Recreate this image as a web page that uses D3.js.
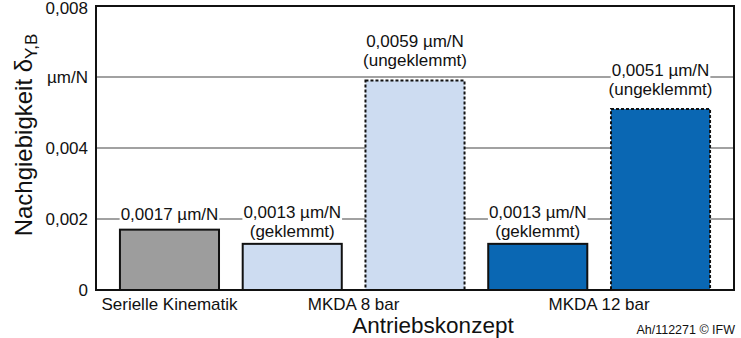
<!DOCTYPE html>
<html>
<head>
<meta charset="utf-8">
<script src="https://cdn.jsdelivr.net/npm/d3@7"></script>
<style>
  html, body { margin: 0; padding: 0; background: #fff; }
  svg { display: block; font-family: "Liberation Sans", Arial, sans-serif; }
</style>
</head>
<body>
<svg id="chart" width="741" height="338"></svg>
<script>
// Compliance (µm/N) of the drive concepts
const barIds      = ["serial", "mkda8_clamped", "mkda8_free", "mkda12_clamped", "mkda12_free"];
const barGroups   = [0, 1, 1, 2, 2];
const values      = [0.0017, 0.0013, 0.0059, 0.0013, 0.0051];
const valueLabels = ["0,0017 µm/N", "0,0013 µm/N", "0,0059 µm/N", "0,0013 µm/N", "0,0051 µm/N"];
const stateLabels = ["", "(geklemmt)", "(ungeklemmt)", "(geklemmt)", "(ungeklemmt)"];
const categories  = ["Serielle Kinematik", "MKDA 8 bar", "MKDA 12 bar"];
const yTicks      = [0, 0.002, 0.004, 0.006, 0.008];
const yTickLabels = ["0", "0,002", "0,004", "µm/N", "0,008"];

// Styling per bar
const barFill   = { serial: "#9d9d9d", mkda8_clamped: "#cddcf1", mkda8_free: "#cddcf1", mkda12_clamped: "#0a67b3", mkda12_free: "#0a67b3" };
const barDashed = { serial: false, mkda8_clamped: false, mkda8_free: true, mkda12_clamped: false, mkda12_free: true };
const labelGap  = { serial: 10, mkda8_clamped: 7, mkda8_free: 15, mkda12_clamped: 7, mkda12_free: 14 };

const svg = d3.select("#chart");
const m = { left: 96, right: 7, top: 6, bottom: 48 };
const W = 741, H = 338;
const x0 = m.left, x1 = W - m.right, yTop = m.top, yBot = H - m.bottom;

const x = d3.scaleBand().domain(barIds).range([x0, x1]).paddingInner(0.193).paddingOuter(0.195);
const y = d3.scaleLinear().domain([0, 0.008]).range([yBot, yTop]);

// gridlines
svg.append("g")
  .selectAll("line").data(yTicks.filter(t => t > 0 && t < 0.008)).join("line")
  .attr("x1", x0).attr("x2", x1)
  .attr("y1", d => y(d)).attr("y2", d => y(d))
  .attr("stroke", "#444").attr("stroke-width", 1.2);

// y axis tick labels
const yAxis = d3.axisLeft(y).tickValues(yTicks).tickSize(0).tickPadding(8)
  .tickFormat((d, i) => yTickLabels[i]);
svg.append("g").attr("transform", `translate(${x0},0)`).call(yAxis)
  .call(g => g.select(".domain").remove())
  .call(g => g.selectAll("text").attr("font-size", 17).attr("fill", "#111")
    .attr("font-family", "Liberation Sans, Arial, sans-serif"))
  .call(g => g.selectAll(".tick").filter(d => d === 0.008).select("text").attr("dy", "0.42em"));

// value labels (drawn before bars, white box masks the gridline)
const lineH = 19;
const labels = svg.append("g");
barIds.forEach((id, i) => {
  const cx = x(id) + x.bandwidth() / 2;
  const lines = stateLabels[i] ? [valueLabels[i], stateLabels[i]] : [valueLabels[i]];
  const bottom = y(values[i]) - labelGap[id];
  lines.forEach((t, k) => {
    const by = bottom - (lines.length - 1 - k) * lineH;
    const txt = labels.append("text")
      .attr("x", cx).attr("y", by).attr("text-anchor", "middle")
      .attr("font-size", 17).attr("fill", "#111").text(t);
    const bb = txt.node().getBBox();
    labels.insert("rect", () => txt.node())
      .attr("x", bb.x - 1).attr("y", bb.y).attr("width", bb.width + 2).attr("height", bb.height)
      .attr("fill", "#fff");
  });
});

// bars
svg.append("g")
  .selectAll("rect").data(barIds).join("rect")
  .attr("x", d => x(d)).attr("width", x.bandwidth())
  .attr("y", (d, i) => y(values[i])).attr("height", (d, i) => yBot - y(values[i]))
  .attr("fill", d => barFill[d])
  .attr("stroke", "#111").attr("stroke-width", 2)
  .attr("stroke-dasharray", d => barDashed[d] ? "3,2" : null);

// frame
svg.append("rect").attr("x", x0).attr("y", yTop).attr("width", x1 - x0).attr("height", yBot - yTop)
  .attr("fill", "none").attr("stroke", "#111").attr("stroke-width", 2);

// category labels
categories.forEach((c, gi) => {
  const ids = barIds.filter((d, i) => barGroups[i] === gi);
  const left = x(ids[0]), right = x(ids[ids.length - 1]) + x.bandwidth();
  svg.append("text").attr("x", (left + right) / 2).attr("y", 310)
    .attr("text-anchor", "middle").attr("font-size", 17).attr("fill", "#111").text(c);
});

// axis titles
svg.append("text").attr("x", 433).attr("y", 333).attr("text-anchor", "middle")
  .attr("font-size", 22.5).attr("fill", "#111").text("Antriebskonzept");

const yt = svg.append("text").attr("transform", "translate(32,135) rotate(-90)")
  .attr("text-anchor", "middle").attr("font-size", 24).attr("fill", "#111");
yt.append("tspan").text("Nachgiebigkeit δ");
yt.append("tspan").attr("font-size", 17).attr("dy", 5).text("Y,B");

// reference note
svg.append("text").attr("x", 735).attr("y", 334).attr("text-anchor", "end")
  .attr("font-size", 12.5).attr("fill", "#111").text("Ah/112271 © IFW");
</script>
</body>
</html>
